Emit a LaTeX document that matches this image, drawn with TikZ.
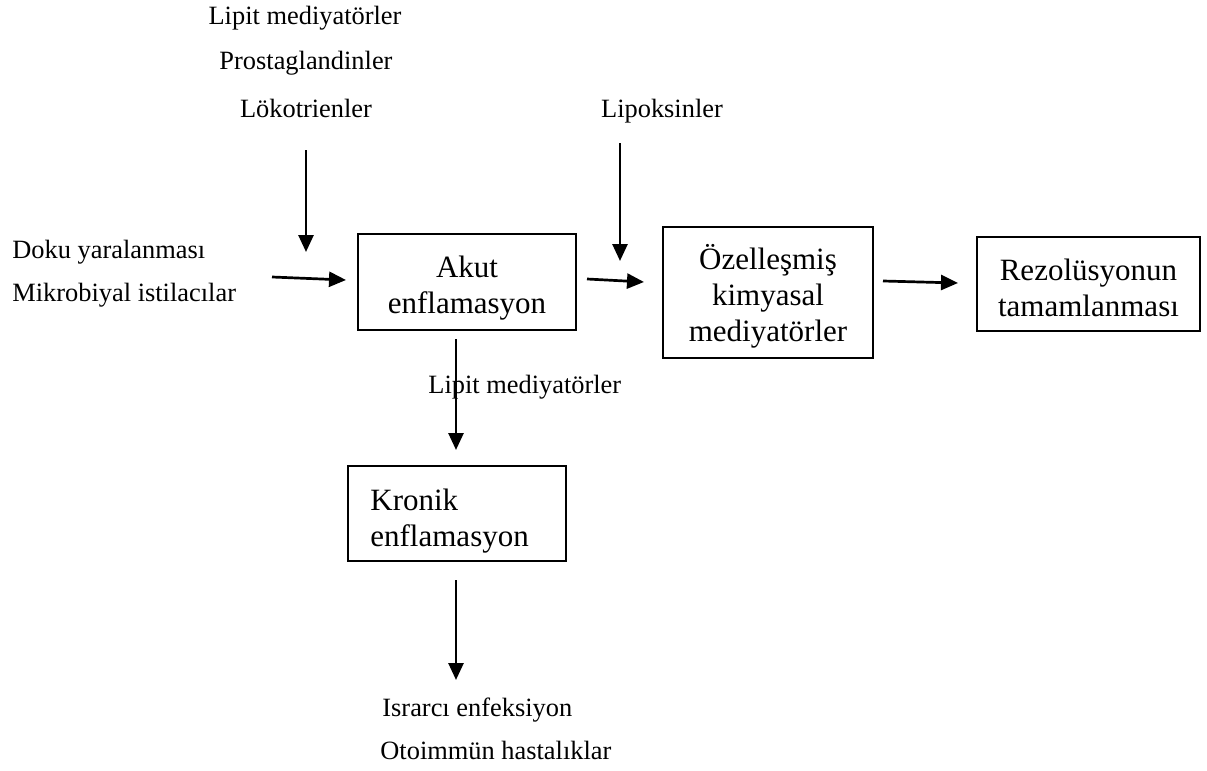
\documentclass[tikz,border=0pt]{standalone}
\usepackage{fontspec}
\setmainfont{Liberation Serif}
\usetikzlibrary{arrows.meta}
\begin{document}
\begin{tikzpicture}[x=0.5pt,y=-0.5pt,
  lbl/.style={inner sep=0pt, text height=9.4pt, text depth=2.8pt, font=\fontsize{13.2}{15}\selectfont},
  box/.style={draw, line width=0.9pt, inner sep=0pt},
  boxtxt/.style={inner sep=0pt, align=center, font=\fontsize{15.5}{18}\selectfont},
  arr/.style={line width=1.35pt, -{Triangle[length=8.5pt,width=7.5pt]}}]
\useasboundingbox (0,0) rectangle (1207,771);
% boxes
\node[box, minimum width=109pt, minimum height=48pt] (akut) at (467,282) {};
\node[boxtxt] (akutT) at (467,288) {Akut\\enflamasyon};
\node[box, minimum width=105pt, minimum height=65.5pt] (ozel) at (768,292.5) {};
\node[boxtxt] (ozelT) at (768,296.5) {Özelleşmiş\\kimyasal\\mediyatörler};
\node[box, minimum width=111.5pt, minimum height=47pt] (rez) at (1088.5,284) {};
\node[boxtxt] (rezT) at (1088.5,288) {Rezolüsyonun\\tamamlanması};
\node[box, minimum width=109pt, minimum height=47.5pt] (kron) at (457,513.5) {};
\node[boxtxt, align=left, anchor=west] (kronT) at (370,521) {Kronik\\enflamasyon};
% labels
\node[lbl] (lm1) at (305,18) {Lipit mediyatörler};
\node[lbl] (pg) at (306,63) {Prostaglandinler};
\node[lbl] (lt) at (306,111) {Lökotrienler};
\node[lbl] (lpx) at (662,111) {Lipoksinler};
\node[lbl, anchor=west] (doku) at (12,252) {Doku yaralanması};
\node[lbl, anchor=west] (mik) at (12,295) {Mikrobiyal istilacılar};
\node[lbl, anchor=west] (lm2) at (428,387) {Lipit mediyatörler};
\node[lbl, anchor=west] (isr) at (382,710) {Israrcı enfeksiyon};
\node[lbl, anchor=west] (oto) at (380,753) {Otoimmün hastalıklar};
% arrow end points
\coordinate (aS) at (306,150); \coordinate (aE) at (306,252);
\coordinate (bS) at (620,143); \coordinate (bE) at (620,261);
\coordinate (cS) at (272,277); \coordinate (cE) at (346,280);
\coordinate (dS) at (587,279); \coordinate (dE) at (644,282);
\coordinate (eS) at (883,281); \coordinate (eE) at (958,283);
\coordinate (fS) at (456,339); \coordinate (fE) at (456,450);
\coordinate (gS) at (456,580); \coordinate (gE) at (456,680);
\draw[arr] (aS) -- (aE);
\draw[arr] (bS) -- (bE);
\draw[arr] (cS) -- (cE);
\draw[arr] (dS) -- (dE);
\draw[arr] (eS) -- (eE);
\draw[arr] (fS) -- (fE);
\draw[arr] (gS) -- (gE);
\end{tikzpicture}
\end{document}
